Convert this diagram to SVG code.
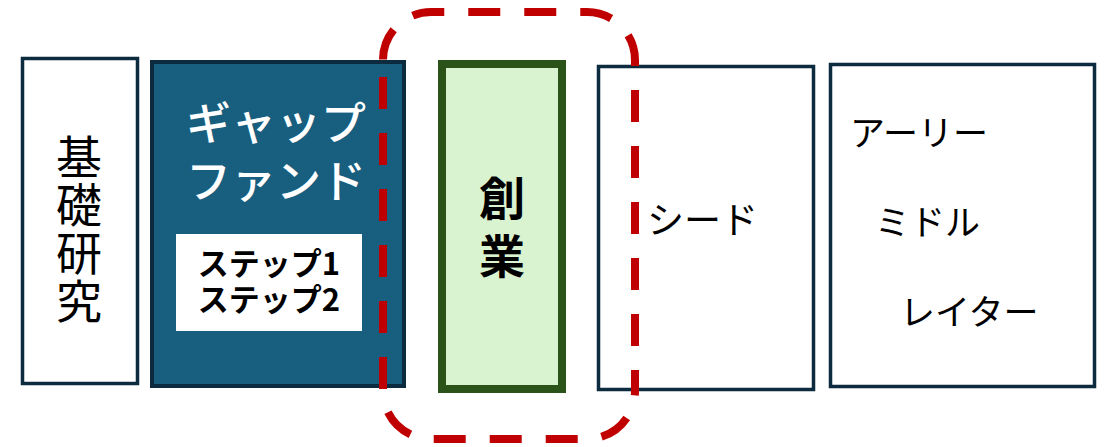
<svg xmlns="http://www.w3.org/2000/svg" width="1104" height="447" viewBox="0 0 1104 447">
<style>
.t{font-family:"Noto Sans CJK JP","Noto Sans",sans-serif;}
.box{fill:#ffffff;stroke:#0D2B3E;stroke-width:3.5;}
.dash{fill:none;stroke:#C00000;stroke-width:8;stroke-dasharray:32 24;}
</style>
<rect width="1104" height="447" fill="#ffffff"/>
<g id="kiso">
<rect class="box" x="22.5" y="58.5" width="115" height="325"/>
<text class="t" x="79" y="134" font-size="46" fill="#000" style="writing-mode:vertical-rl" letter-spacing="2">基礎研究</text>
</g>
<g id="gapfund">
<rect x="152" y="62" width="252" height="324" fill="#175E7F" stroke="#0D2B3E" stroke-width="4"/>
<text class="t" font-size="45" font-weight="500" fill="#ffffff" text-anchor="middle"><tspan x="276" y="140">ギャップ</tspan><tspan x="276" y="198">ファンド</tspan></text>
<rect x="176" y="234" width="186" height="97" fill="#ffffff"/>
<text class="t" font-size="31" font-weight="bold" fill="#000" text-anchor="middle"><tspan x="269" y="275">ステップ1</tspan><tspan x="269" y="311">ステップ2</tspan></text>
</g>
<g id="sogyo">
<rect x="442" y="64" width="120" height="325" fill="#D9F2D0" stroke="#2A5219" stroke-width="8"/>
<text class="t" x="502" y="175" font-size="46" font-weight="bold" fill="#000" style="writing-mode:vertical-rl" letter-spacing="12">創業</text>
</g>
<g id="seed">
<rect class="box" x="598.5" y="66.5" width="215" height="323"/>
<text class="t" x="647" y="234" font-size="37" fill="#000">シード</text>
</g>
<g id="later">
<rect class="box" x="830.5" y="64.5" width="264" height="322"/>
<g class="t" font-size="35" fill="#000">
<text x="850" y="146">アーリー</text>
<text x="875" y="235">ミドル</text>
<text x="900" y="325">レイター</text>
</g>
</g>
<g id="connectors">
<path class="dash" d="M383,77 V391 A48,48 0 0 0 431,439 H587 A48,48 0 0 0 635,391"/>
<path class="dash" style="stroke-dashoffset:11" d="M635,391 V60 A48,48 0 0 0 587,12 H431 A48,48 0 0 0 383,60 V77"/>
</g>
</svg>
